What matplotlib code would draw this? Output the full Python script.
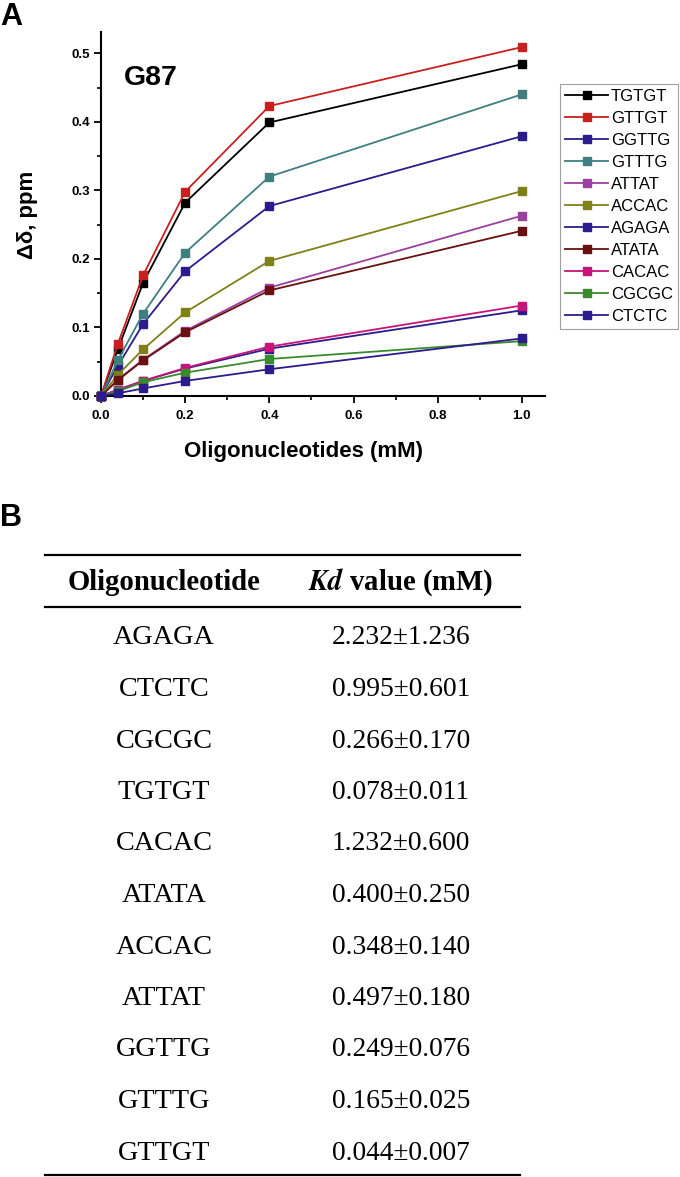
import matplotlib
matplotlib.use("Agg")
import matplotlib.pyplot as plt
from matplotlib.ticker import MultipleLocator
from matplotlib.lines import Line2D

plt.rcParams["mathtext.fontset"] = "stix"

# ---------------- data ----------------
conc = [0.0, 0.04, 0.1, 0.2, 0.4, 1.0]

series_names = ["TGTGT", "GTTGT", "GGTTG", "GTTTG", "ATTAT", "ACCAC",
                "AGAGA", "ATATA", "CACAC", "CGCGC", "CTCTC"]

TGTGT = [0.0, 0.068, 0.165, 0.282, 0.399, 0.484]
GTTGT = [0.0, 0.076, 0.176, 0.298, 0.423, 0.509]
GGTTG = [0.0, 0.044, 0.105, 0.182, 0.277, 0.379]
GTTTG = [0.0, 0.052, 0.120, 0.209, 0.320, 0.440]
ATTAT = [0.0, 0.024, 0.053, 0.095, 0.158, 0.263]
ACCAC = [0.0, 0.031, 0.068, 0.122, 0.197, 0.299]
AGAGA = [0.0, 0.009, 0.022, 0.040, 0.069, 0.125]
ATATA = [0.0, 0.023, 0.052, 0.093, 0.154, 0.241]
CACAC = [0.0, 0.009, 0.022, 0.041, 0.072, 0.132]
CGCGC = [0.0, 0.007, 0.020, 0.034, 0.054, 0.080]
CTCTC = [0.0, 0.004, 0.011, 0.022, 0.039, 0.084]

series_values = [TGTGT, GTTGT, GGTTG, GTTTG, ATTAT, ACCAC,
                 AGAGA, ATATA, CACAC, CGCGC, CTCTC]

series_colors = ["#000000", "#c8201e", "#2b1b8c", "#3f7f80", "#9b3fa0", "#808018",
                 "#2b1b8c", "#6a1010", "#c8147a", "#3a8a2e", "#2b1b8c"]

table_oligos = ["AGAGA", "CTCTC", "CGCGC", "TGTGT", "CACAC", "ATATA",
                "ACCAC", "ATTAT", "GGTTG", "GTTTG", "GTTGT"]
table_kd = ["2.232±1.236", "0.995±0.601", "0.266±0.170", "0.078±0.011",
            "1.232±0.600", "0.400±0.250", "0.348±0.140", "0.497±0.180",
            "0.249±0.076", "0.165±0.025", "0.044±0.007"]

# ---------------- figure ----------------
W, H = 680, 1177
fig = plt.figure(figsize=(W / 100, H / 100), dpi=100)
SANS = ["Liberation Sans", "DejaVu Sans"]
SERIF = ["Liberation Serif", "DejaVu Serif"]

def fx(px):
    return px / W

def fy(py):
    return 1 - py / H

ax_left, ax_right, ax_top, ax_bottom = 101, 545, 32, 396
ax = fig.add_axes([fx(ax_left), fy(ax_bottom), fx(ax_right - ax_left),
                   (ax_bottom - ax_top) / H])

handles = []
for name, vals, col in zip(series_names, series_values, series_colors):
    h, = ax.plot(conc, vals, color=col, lw=1.3, marker="s", markersize=5.2,
                 markerfacecolor=col, markeredgecolor=col, label=name,
                 clip_on=False, zorder=3)
    handles.append(h)

ax.set_xlim(0, 1.055)
ax.set_ylim(0, 0.531)
for s in ["top", "right"]:
    ax.spines[s].set_visible(False)
for s in ["left", "bottom"]:
    ax.spines[s].set_linewidth(1.5)

ax.xaxis.set_major_locator(MultipleLocator(0.2))
ax.xaxis.set_minor_locator(MultipleLocator(0.1))
ax.yaxis.set_major_locator(MultipleLocator(0.1))
ax.yaxis.set_minor_locator(MultipleLocator(0.05))
ax.tick_params(which="major", direction="out", length=5, width=1.3, pad=3)
ax.tick_params(which="minor", direction="out", length=3, width=1.2)
ax.tick_params(axis="x", which="major", pad=5)
ax.set_xticklabels([f"{t:.1f}" for t in ax.get_xticks()])
ax.set_yticklabels([f"{t:.1f}" for t in ax.get_yticks()])
for lab in ax.get_xticklabels() + ax.get_yticklabels():
    lab.set_family(SANS)
    lab.set_fontweight("bold")
    lab.set_fontsize(9.5)

fig.text(fx(124), fy(78), "G87", family=SANS, fontweight="bold", fontsize=20.5,
         va="center", ha="left")

fig.text(fx(304), fy(452), "Oligonucleotides (mM)", family=SANS, fontweight="bold",
         fontsize=16, ha="center", va="center")
fig.text(fx(27), fy(215), "Δδ, ppm", family=SANS, fontweight="bold",
         fontsize=16, ha="center", va="center", rotation=90)

leg = fig.legend(handles=handles, loc="upper left",
                 bbox_to_anchor=(fx(560), fy(84)), bbox_transform=fig.transFigure,
                 frameon=True, fancybox=False, edgecolor="#888888",
                 prop={"family": SANS, "size": 12.0}, handlelength=2.6,
                 handletextpad=0.15, labelspacing=0.42, borderpad=0.3,
                 borderaxespad=0)
leg.get_frame().set_linewidth(0.8)

# Panel labels
fig.text(fx(0), fy(17), "A", family=SANS, fontweight="bold", fontsize=22,
         ha="left", va="center")
fig.text(fx(0), fy(518), "B", family=SANS, fontweight="bold", fontsize=22,
         ha="left", va="center")

# ---------------- table ----------------
tab_left, tab_right = 45, 520
col1_x, col2_x = 164, 401
for yy in [555, 607, 1175]:
    fig.add_artist(Line2D([fx(tab_left), fx(tab_right)], [fy(yy), fy(yy)],
                          color="black", lw=1.6, transform=fig.transFigure))

fig.text(fx(col1_x), fy(582), "Oligonucleotide", family=SERIF,
         fontweight="bold", fontsize=20.7, ha="center", va="center")
fig.text(fx(col2_x), fy(582), r"$\mathbfit{Kd}$ value (mM)", family=SERIF,
         fontweight="bold", fontsize=20.7, ha="center", va="center")

row0, row_step = 638, 51.5
for i, (olig, kd) in enumerate(zip(table_oligos, table_kd)):
    yy = row0 + i * row_step
    fig.text(fx(col1_x), fy(yy), olig, family=SERIF, fontsize=20.3,
             ha="center", va="center")
    fig.text(fx(col2_x), fy(yy), kd, family=SERIF, fontsize=19.8,
             ha="center", va="center")

fig.savefig("out.png", dpi=100)
